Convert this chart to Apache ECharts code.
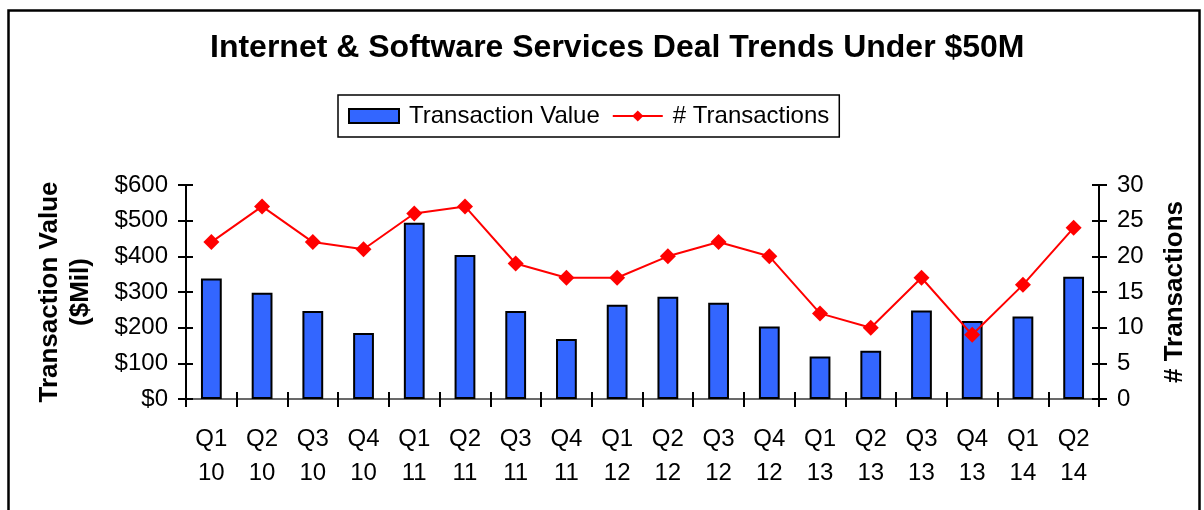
<!DOCTYPE html>
<html>
<head>
<meta charset="utf-8">
<script src="https://cdn.jsdelivr.net/npm/echarts@6/dist/echarts.min.js"></script>
<style>
html,body{margin:0;padding:0;background:#fff;}
#chart{width:1204px;height:510px;}
</style>
</head>
<body>
<div id="chart"></div>
<script>
var categories = ['Q1\n10','Q2\n10','Q3\n10','Q4\n10','Q1\n11','Q2\n11','Q3\n11','Q4\n11','Q1\n12','Q2\n12','Q3\n12','Q4\n12','Q1\n13','Q2\n13','Q3\n13','Q4\n13','Q1\n14','Q2\n14'];
var transactionValue = [338, 298, 247, 185, 494, 404, 247, 168, 264, 287, 270, 203, 119, 135, 248, 219, 231, 343];
var transactionCount = [22, 27, 22, 21, 26, 27, 19, 17, 17, 20, 22, 20, 12, 10, 17, 9, 16, 24];

var FONT = 'Liberation Sans, Arial, Helvetica, sans-serif';
var chart = echarts.init(document.getElementById('chart'), null, {renderer: 'canvas'});

var option = {
  backgroundColor: '#ffffff',
  animation: false,
  textStyle: {fontFamily: FONT},
  title: {
    text: 'Internet & Software Services Deal Trends Under $50M',
    left: 205,
    top: 27,
    textStyle: {fontFamily: FONT, fontSize: 32, fontWeight: 'bold', color: '#000'}
  },
  legend: {
    left: 338,
    top: 95,
    padding: [9, 10, 9, 10],
    itemGap: 12,
    itemWidth: 50,
    itemHeight: 14,
    borderColor: '#000',
    borderWidth: 1.5,
    textStyle: {fontFamily: FONT, fontSize: 24, color: '#000', padding: [0, 0, 0, 5]},
    data: [
      {name: 'Transaction Value', icon: 'rect'},
      {name: '# Transactions'}
    ]
  },
  grid: {left: 186, right: 105, top: 185, bottom: 111, containLabel: false},
  xAxis: [
    {
      type: 'category',
      data: categories,
      position: 'bottom',
      axisLine: {show: true, lineStyle: {color: '#000', width: 2}},
      axisTick: {show: true, inside: false, length: 8, lineStyle: {color: '#000', width: 2}},
      axisLabel: {color: '#000', fontSize: 24, fontFamily: FONT, lineHeight: 34, margin: 23, interval: 0},
      splitLine: {show: false}
    },
    {
      type: 'category',
      data: categories,
      position: 'bottom',
      offset: 0,
      axisLine: {show: false},
      axisTick: {show: true, inside: true, length: 7, lineStyle: {color: '#000', width: 2}},
      axisLabel: {show: false},
      splitLine: {show: false}
    },
    {
      type: 'category',
      data: categories,
      position: 'top',
      offset: 0,
      axisLine: {show: true, lineStyle: {color: '#8c8c8c', width: 1.5}},
      axisTick: {show: false},
      axisLabel: {show: false},
      splitLine: {show: false}
    }
  ],
  yAxis: [
    {
      type: 'value',
      min: 0, max: 600, interval: 100,
      position: 'left',
      name: 'Transaction Value\n($Mil)',
      nameLocation: 'middle',
      nameGap: 90,
      nameTextStyle: {fontFamily: FONT, fontSize: 26, fontWeight: 'bold', color: '#000', lineHeight: 31},
      axisLine: {show: true, lineStyle: {color: '#000', width: 2}},
      axisTick: {show: true, inside: false, length: 8, lineStyle: {color: '#000', width: 2}},
      axisLabel: {color: '#000', fontSize: 24, fontFamily: FONT, margin: 18, formatter: function (v) { return '$' + v; }},
      splitLine: {show: false}
    },
    {
      type: 'value',
      min: 0, max: 30, interval: 5,
      position: 'right',
      name: '# Transactions',
      nameLocation: 'middle',
      nameGap: 63,
      nameRotate: 90,
      nameTextStyle: {fontFamily: FONT, fontSize: 26, fontWeight: 'bold', color: '#000'},
      axisLine: {show: true, lineStyle: {color: '#000', width: 2}},
      axisTick: {show: true, inside: false, length: 8, lineStyle: {color: '#000', width: 2}},
      axisLabel: {color: '#000', fontSize: 24, fontFamily: FONT, margin: 18},
      splitLine: {show: false}
    },
    {
      type: 'value',
      min: 0, max: 600, interval: 100,
      position: 'left', offset: 0,
      axisLine: {show: false},
      axisTick: {show: true, inside: true, length: 7, lineStyle: {color: '#000', width: 2}},
      axisLabel: {show: false},
      splitLine: {show: false}
    },
    {
      type: 'value',
      min: 0, max: 30, interval: 5,
      position: 'right', offset: 0,
      axisLine: {show: false},
      axisTick: {show: true, inside: true, length: 7, lineStyle: {color: '#000', width: 2}},
      axisLabel: {show: false},
      splitLine: {show: false}
    }
  ],
  series: [
    {
      name: 'Transaction Value',
      type: 'bar',
      xAxisIndex: 0,
      yAxisIndex: 0,
      data: transactionValue,
      barWidth: '41%',
      itemStyle: {color: '#3366FF', borderColor: '#000', borderWidth: 2}
    },
    {
      name: '# Transactions',
      type: 'line',
      xAxisIndex: 0,
      yAxisIndex: 1,
      data: transactionCount,
      symbol: 'diamond',
      symbolSize: 16,
      lineStyle: {color: '#FF0000', width: 2},
      itemStyle: {color: '#FF0000'}
    }
  ],
  graphic: [
    {
      type: 'rect',
      left: 6, top: 8,
      shape: {width: 1191, height: 520},
      style: {fill: 'none', stroke: '#000', lineWidth: 2.5},
      silent: true
    }
  ]
};
chart.setOption(option);
</script>
</body>
</html>
